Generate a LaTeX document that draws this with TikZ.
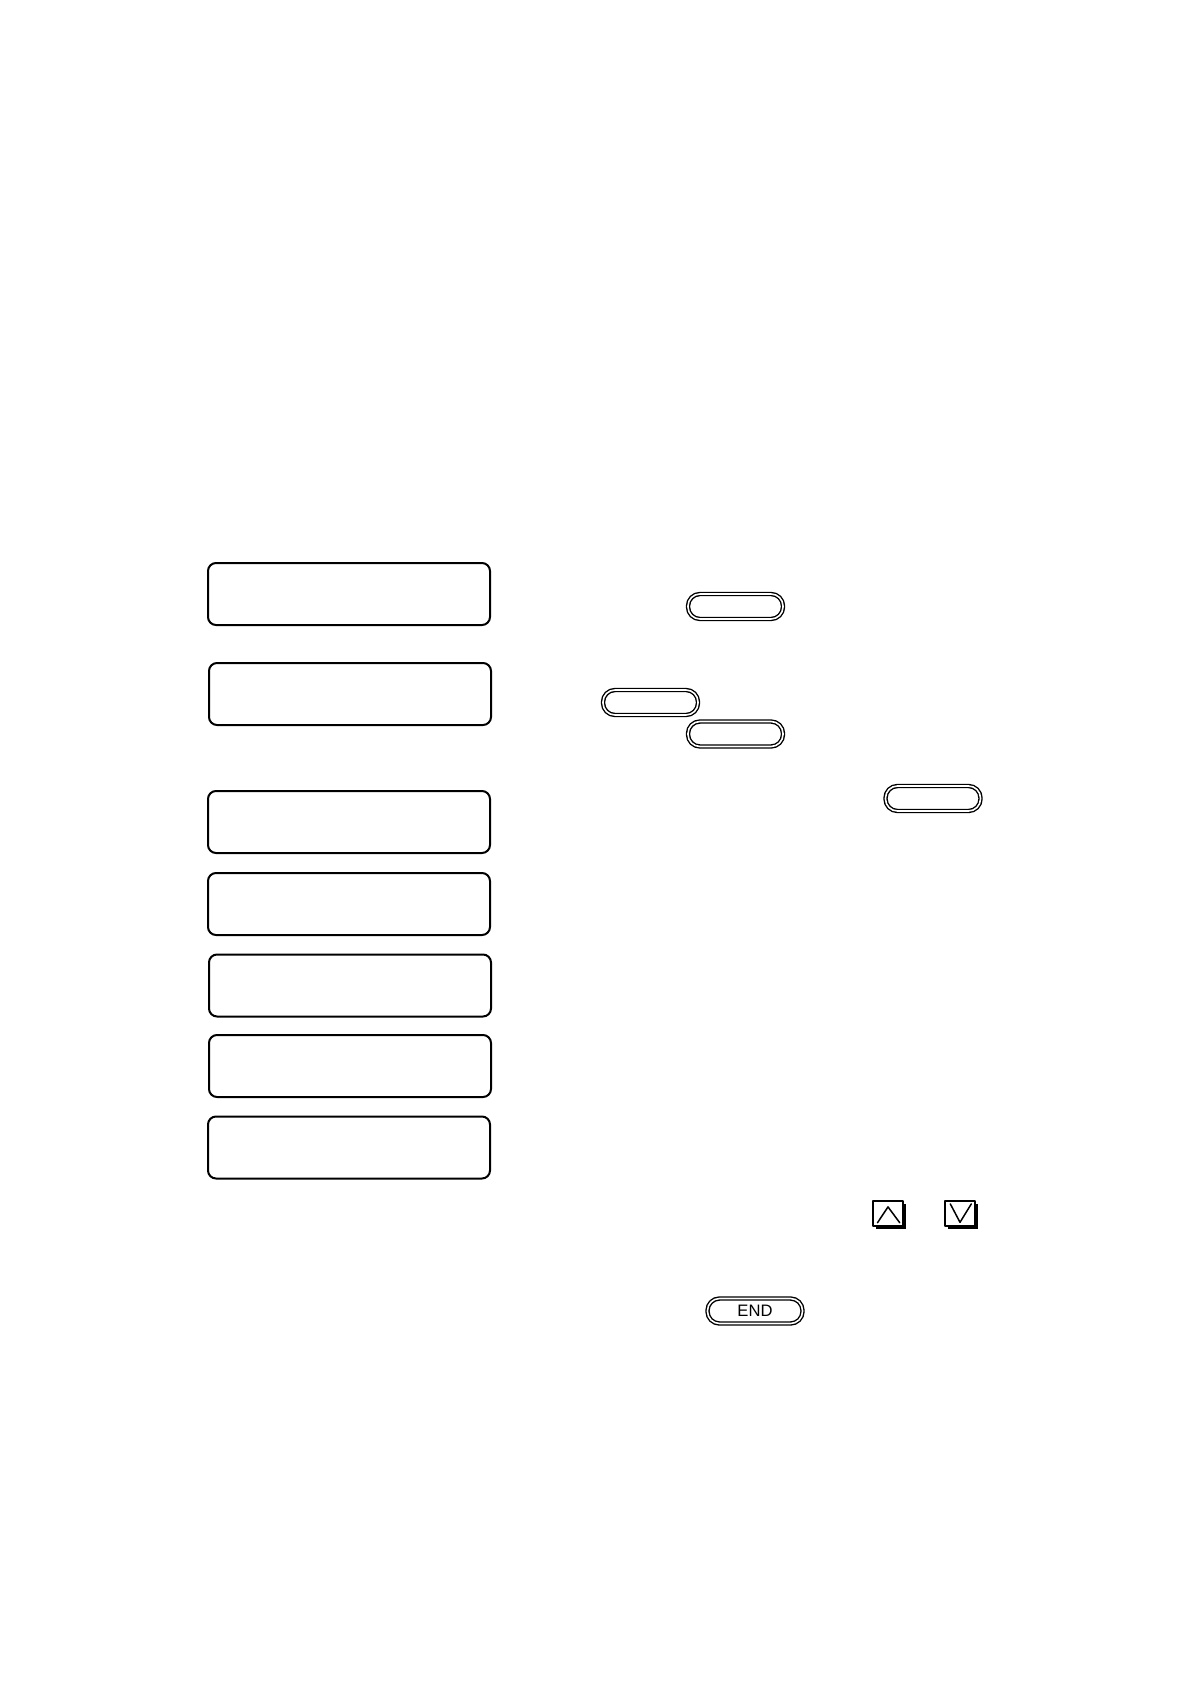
\documentclass[tikz,border=0pt]{standalone}
\usepackage{fontspec}
\setmainfont{Liberation Sans}

\begin{document}
\begin{tikzpicture}[line cap=round, line join=round, x=0.5pt, y=-0.5pt,
    lcd/.style={draw, line width=1pt, rounded corners=4pt,
      minimum width=141pt, minimum height=31pt, inner sep=0pt},
    key/.style={draw, line width=0.7pt, double=white, double distance=0.8pt,
      rounded corners=6pt, minimum width=47.5pt, minimum height=12.5pt,
      inner sep=0pt, font=\fontsize{8.3}{10}\selectfont},
    arrowkey/.style={draw, fill=white, line width=0.7pt,
      minimum width=15pt, minimum height=12.5pt, inner sep=0pt,
      preaction={fill=black, transform canvas={shift={(1.5pt,-1.5pt)}}}},
    chevron/.style={line width=0.75pt}]

  \useasboundingbox (0,0) rectangle (1190,1684);

  % displays
  \node[lcd] (lcd1) at (349,594) {};
  \node[lcd] (lcd2) at (350,694) {};
  \node[lcd] (lcd3) at (349,822) {};
  \node[lcd] (lcd4) at (349,904) {};
  \node[lcd] (lcd5) at (350,985.5) {};
  \node[lcd] (lcd6) at (350,1066) {};
  \node[lcd] (lcd7) at (349,1147.5) {};

  % keys
  \node[key] (keya) at (735.5,606.5) {};
  \node[key] (keyb) at (650.5,702.5) {};
  \node[key] (keyc) at (735.5,734) {};
  \node[key] (keyd) at (933,798.5) {};
  \node[key] (keyend) at (755,1311) {END};

  % up and down
  \node[arrowkey] (up) at (888,1213.5) {};
  \node[arrowkey] (down) at (960,1213.5) {};
  \draw[chevron] ([xshift=2.6pt,yshift=2pt]up.south west) -- ([yshift=-3.3pt]up.north)
    -- ([xshift=-2pt,yshift=2pt]up.south east);
  \draw[chevron] ([xshift=3pt,yshift=-1.8pt]down.north west) -- ([yshift=2.2pt]down.south)
    -- ([xshift=-2.2pt,yshift=-1.8pt]down.north east);

\end{tikzpicture}
\end{document}
